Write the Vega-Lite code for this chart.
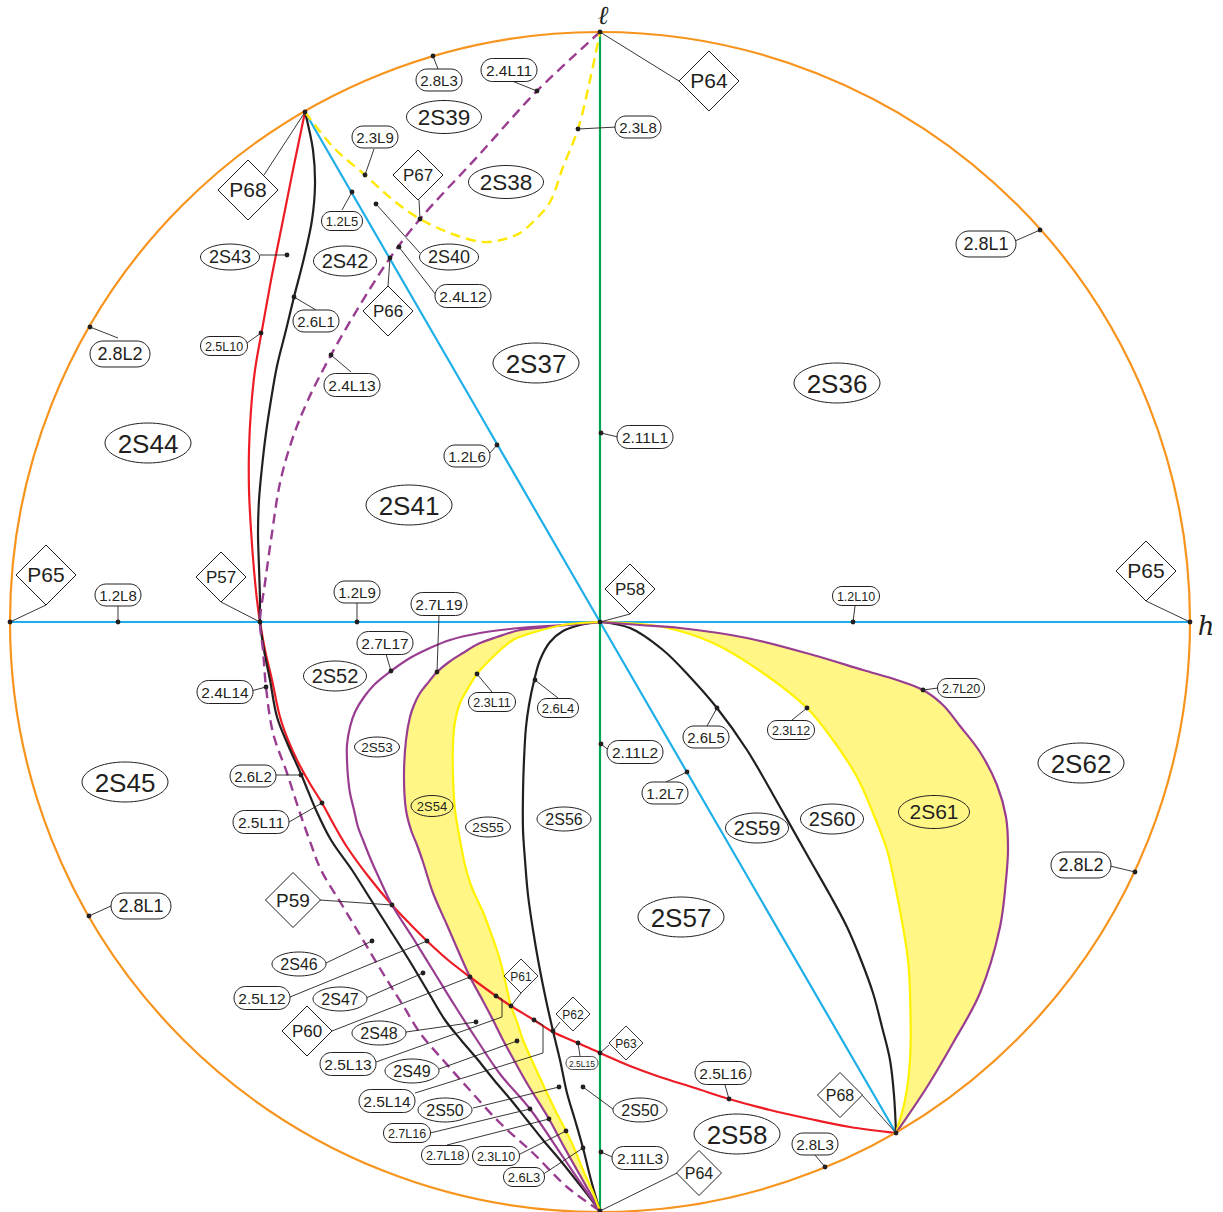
{
"$schema":"https://vega.github.io/schema/vega-lite/v6.json",
"width":1223,"height":1212,"autosize":{"type":"none"},"padding":0,"background":"white",
"config":{"view":{"stroke":null}},
"datasets":{
"curves":[
{"c":"h","k":0,"x":-590,"y":0},{"c":"h","k":1,"x":590,"y":0},
{"c":"v","k":0,"x":0,"y":590},{"c":"v","k":1,"x":0,"y":-589},
{"c":"diag","k":0,"x":-295,"y":510},{"c":"diag","k":1,"x":0,"y":0},{"c":"diag","k":2,"x":296,"y":-511},
{"c":"red","k":0,"x":-295,"y":510},{"c":"red","k":1,"x":-306,"y":457},{"c":"red","k":2,"x":-316,"y":407},{"c":"red","k":3,"x":-328,"y":347},{"c":"red","k":4,"x":-338,"y":292},{"c":"red","k":5,"x":-345,"y":252},{"c":"red","k":6,"x":-349,"y":212},{"c":"red","k":7,"x":-351,"y":172},{"c":"red","k":8,"x":-351,"y":132},{"c":"red","k":9,"x":-349,"y":92},{"c":"red","k":10,"x":-346,"y":52},{"c":"red","k":11,"x":-343,"y":22},{"c":"red","k":12,"x":-340,"y":0},{"c":"red","k":13,"x":-335,"y":-28},{"c":"red","k":14,"x":-328,"y":-58},{"c":"red","k":15,"x":-320,"y":-95},{"c":"red","k":16,"x":-312,"y":-118},{"c":"red","k":17,"x":-303,"y":-138},{"c":"red","k":18,"x":-291,"y":-160},{"c":"red","k":19,"x":-278,"y":-181},{"c":"red","k":20,"x":-266,"y":-203},{"c":"red","k":21,"x":-253,"y":-225},{"c":"red","k":22,"x":-232,"y":-254},{"c":"red","k":23,"x":-208,"y":-283},{"c":"red","k":24,"x":-190,"y":-302},{"c":"red","k":25,"x":-173,"y":-319},{"c":"red","k":26,"x":-152,"y":-338},{"c":"red","k":27,"x":-130,"y":-355},{"c":"red","k":28,"x":-104,"y":-374},{"c":"red","k":29,"x":-89,"y":-384},{"c":"red","k":30,"x":-66,"y":-398},{"c":"red","k":31,"x":-47,"y":-410},{"c":"red","k":32,"x":-22,"y":-421},{"c":"red","k":33,"x":0,"y":-431},{"c":"red","k":34,"x":30,"y":-444},{"c":"red","k":35,"x":60,"y":-455},{"c":"red","k":36,"x":95,"y":-466},{"c":"red","k":37,"x":129,"y":-477},{"c":"red","k":38,"x":170,"y":-488},{"c":"red","k":39,"x":210,"y":-497},{"c":"red","k":40,"x":250,"y":-505},{"c":"red","k":41,"x":296,"y":-511},
{"c":"blackL","k":0,"x":-295,"y":510},{"c":"blackL","k":1,"x":-287,"y":472},{"c":"blackL","k":2,"x":-285,"y":437},{"c":"blackL","k":3,"x":-288,"y":402},{"c":"blackL","k":4,"x":-296,"y":364},{"c":"blackL","k":5,"x":-306,"y":325},{"c":"blackL","k":6,"x":-314,"y":292},{"c":"blackL","k":7,"x":-323,"y":256},{"c":"blackL","k":8,"x":-329,"y":222},{"c":"blackL","k":9,"x":-334,"y":189},{"c":"blackL","k":10,"x":-338,"y":155},{"c":"blackL","k":11,"x":-341,"y":122},{"c":"blackL","k":12,"x":-342,"y":89},{"c":"blackL","k":13,"x":-341,"y":55},{"c":"blackL","k":14,"x":-340,"y":22},{"c":"blackL","k":15,"x":-340,"y":0},{"c":"blackL","k":16,"x":-336,"y":-28},{"c":"blackL","k":17,"x":-330,"y":-58},{"c":"blackL","k":18,"x":-323,"y":-95},{"c":"blackL","k":19,"x":-312,"y":-123},{"c":"blackL","k":20,"x":-299,"y":-152},{"c":"blackL","k":21,"x":-284,"y":-188},{"c":"blackL","k":22,"x":-269,"y":-218},{"c":"blackL","k":23,"x":-248,"y":-248},{"c":"blackL","k":24,"x":-229,"y":-278},{"c":"blackL","k":25,"x":-210,"y":-308},{"c":"blackL","k":26,"x":-191,"y":-338},{"c":"blackL","k":27,"x":-173,"y":-368},{"c":"blackL","k":28,"x":-155,"y":-398},{"c":"blackL","k":29,"x":-139,"y":-418},{"c":"blackL","k":30,"x":-122,"y":-438},{"c":"blackL","k":31,"x":-106,"y":-458},{"c":"blackL","k":32,"x":-89,"y":-478},{"c":"blackL","k":33,"x":-73,"y":-498},{"c":"blackL","k":34,"x":-57,"y":-518},{"c":"blackL","k":35,"x":-40,"y":-538},{"c":"blackL","k":36,"x":-24,"y":-558},{"c":"blackL","k":37,"x":0,"y":-589},
{"c":"blackM","k":0,"x":0,"y":0},{"c":"blackM","k":1,"x":-20,"y":-3},{"c":"blackM","k":2,"x":-37,"y":-9},{"c":"blackM","k":3,"x":-50,"y":-20},{"c":"blackM","k":4,"x":-60,"y":-38},{"c":"blackM","k":5,"x":-66,"y":-59},{"c":"blackM","k":6,"x":-71,"y":-83},{"c":"blackM","k":7,"x":-74,"y":-105},{"c":"blackM","k":8,"x":-76,"y":-138},{"c":"blackM","k":9,"x":-77,"y":-171},{"c":"blackM","k":10,"x":-77,"y":-208},{"c":"blackM","k":11,"x":-75,"y":-238},{"c":"blackM","k":12,"x":-72,"y":-273},{"c":"blackM","k":13,"x":-67,"y":-308},{"c":"blackM","k":14,"x":-61,"y":-343},{"c":"blackM","k":15,"x":-54,"y":-378},{"c":"blackM","k":16,"x":-47,"y":-409},{"c":"blackM","k":17,"x":-40,"y":-438},{"c":"blackM","k":18,"x":-33,"y":-471},{"c":"blackM","k":19,"x":-25,"y":-498},{"c":"blackM","k":20,"x":-17,"y":-526},{"c":"blackM","k":21,"x":-9,"y":-558},{"c":"blackM","k":22,"x":0,"y":-589},
{"c":"blackR","k":0,"x":0,"y":0},{"c":"blackR","k":1,"x":30,"y":-6},{"c":"blackR","k":2,"x":63,"y":-28},{"c":"blackR","k":3,"x":90,"y":-55},{"c":"blackR","k":4,"x":117,"y":-86},{"c":"blackR","k":5,"x":147,"y":-128},{"c":"blackR","k":6,"x":180,"y":-185},{"c":"blackR","k":7,"x":210,"y":-238},{"c":"blackR","k":8,"x":230,"y":-273},{"c":"blackR","k":9,"x":247,"y":-305},{"c":"blackR","k":10,"x":261,"y":-338},{"c":"blackR","k":11,"x":273,"y":-371},{"c":"blackR","k":12,"x":282,"y":-405},{"c":"blackR","k":13,"x":290,"y":-438},{"c":"blackR","k":14,"x":294,"y":-473},{"c":"blackR","k":15,"x":296,"y":-511},
{"c":"p17","k":0,"x":0,"y":0},{"c":"p17","k":1,"x":-37,"y":-3},{"c":"p17","k":2,"x":-80,"y":-6},{"c":"p17","k":3,"x":-120,"y":-11},{"c":"p17","k":4,"x":-150,"y":-18},{"c":"p17","k":5,"x":-170,"y":-26},{"c":"p17","k":6,"x":-190,"y":-36},{"c":"p17","k":7,"x":-209,"y":-49},{"c":"p17","k":8,"x":-225,"y":-62},{"c":"p17","k":9,"x":-236,"y":-75},{"c":"p17","k":10,"x":-245,"y":-90},{"c":"p17","k":11,"x":-250,"y":-105},{"c":"p17","k":12,"x":-253,"y":-123},{"c":"p17","k":13,"x":-253,"y":-138},{"c":"p17","k":14,"x":-252,"y":-155},{"c":"p17","k":15,"x":-250,"y":-171},{"c":"p17","k":16,"x":-246,"y":-188},{"c":"p17","k":17,"x":-242,"y":-205},{"c":"p17","k":18,"x":-237,"y":-218},{"c":"p17","k":19,"x":-229,"y":-238},{"c":"p17","k":20,"x":-220,"y":-258},{"c":"p17","k":21,"x":-208,"y":-283},{"c":"p17","k":22,"x":-187,"y":-316},{"c":"p17","k":23,"x":-166,"y":-350},{"c":"p17","k":24,"x":-145,"y":-384},{"c":"p17","k":25,"x":-123,"y":-418},{"c":"p17","k":26,"x":-100,"y":-452},{"c":"p17","k":27,"x":-70,"y":-487},{"c":"p17","k":28,"x":-35,"y":-538},{"c":"p17","k":29,"x":0,"y":-589},
{"c":"p19","k":0,"x":0,"y":0},{"c":"p19","k":1,"x":-53,"y":-5},{"c":"p19","k":2,"x":-80,"y":-8},{"c":"p19","k":3,"x":-103,"y":-15},{"c":"p19","k":4,"x":-122,"y":-22},{"c":"p19","k":5,"x":-137,"y":-31},{"c":"p19","k":6,"x":-151,"y":-40},{"c":"p19","k":7,"x":-163,"y":-50},{"c":"p19","k":8,"x":-173,"y":-62},{"c":"p19","k":9,"x":-180,"y":-71},{"c":"p19","k":10,"x":-186,"y":-83},{"c":"p19","k":11,"x":-190,"y":-95},{"c":"p19","k":12,"x":-194,"y":-118},{"c":"p19","k":13,"x":-196,"y":-155},{"c":"p19","k":14,"x":-194,"y":-188},{"c":"p19","k":15,"x":-189,"y":-208},{"c":"p19","k":16,"x":-183,"y":-223},{"c":"p19","k":17,"x":-177,"y":-240},{"c":"p19","k":18,"x":-167,"y":-271},{"c":"p19","k":19,"x":-153,"y":-303},{"c":"p19","k":20,"x":-140,"y":-333},{"c":"p19","k":21,"x":-130,"y":-355},{"c":"p19","k":22,"x":-117,"y":-379},{"c":"p19","k":23,"x":-107,"y":-398},{"c":"p19","k":24,"x":-97,"y":-418},{"c":"p19","k":25,"x":-85,"y":-440},{"c":"p19","k":26,"x":-72,"y":-463},{"c":"p19","k":27,"x":-51,"y":-497},{"c":"p19","k":28,"x":-37,"y":-523},{"c":"p19","k":29,"x":-23,"y":-548},{"c":"p19","k":30,"x":-10,"y":-571},{"c":"p19","k":31,"x":0,"y":-589},
{"c":"y11","k":0,"x":0,"y":0},{"c":"y11","k":1,"x":-37,"y":-3},{"c":"y11","k":2,"x":-65,"y":-10},{"c":"y11","k":3,"x":-87,"y":-18},{"c":"y11","k":4,"x":-105,"y":-33},{"c":"y11","k":5,"x":-123,"y":-52},{"c":"y11","k":6,"x":-133,"y":-68},{"c":"y11","k":7,"x":-140,"y":-81},{"c":"y11","k":8,"x":-145,"y":-100},{"c":"y11","k":9,"x":-147,"y":-121},{"c":"y11","k":10,"x":-147,"y":-155},{"c":"y11","k":11,"x":-145,"y":-188},{"c":"y11","k":12,"x":-140,"y":-218},{"c":"y11","k":13,"x":-135,"y":-243},{"c":"y11","k":14,"x":-128,"y":-266},{"c":"y11","k":15,"x":-117,"y":-290},{"c":"y11","k":16,"x":-108,"y":-314},{"c":"y11","k":17,"x":-100,"y":-338},{"c":"y11","k":18,"x":-94,"y":-363},{"c":"y11","k":19,"x":-89,"y":-384},{"c":"y11","k":20,"x":-83,"y":-400},{"c":"y11","k":21,"x":-77,"y":-418},{"c":"y11","k":22,"x":-66,"y":-443},{"c":"y11","k":23,"x":-53,"y":-471},{"c":"y11","k":24,"x":-44,"y":-490},{"c":"y11","k":25,"x":-34,"y":-509},{"c":"y11","k":26,"x":-25,"y":-528},{"c":"y11","k":27,"x":-17,"y":-548},{"c":"y11","k":28,"x":-8,"y":-568},{"c":"y11","k":29,"x":0,"y":-589},
{"c":"y12","k":0,"x":0,"y":0},{"c":"y12","k":1,"x":63,"y":-5},{"c":"y12","k":2,"x":113,"y":-21},{"c":"y12","k":3,"x":163,"y":-51},{"c":"y12","k":4,"x":207,"y":-86},{"c":"y12","k":5,"x":233,"y":-118},{"c":"y12","k":6,"x":257,"y":-155},{"c":"y12","k":7,"x":273,"y":-191},{"c":"y12","k":8,"x":287,"y":-228},{"c":"y12","k":9,"x":295,"y":-263},{"c":"y12","k":10,"x":303,"y":-305},{"c":"y12","k":11,"x":308,"y":-338},{"c":"y12","k":12,"x":310,"y":-371},{"c":"y12","k":13,"x":310,"y":-438},{"c":"y12","k":14,"x":305,"y":-478},{"c":"y12","k":15,"x":296,"y":-511},
{"c":"p20","k":0,"x":0,"y":0},{"c":"p20","k":1,"x":40,"y":-3},{"c":"p20","k":2,"x":80,"y":-6},{"c":"p20","k":3,"x":147,"y":-16},{"c":"p20","k":4,"x":213,"y":-33},{"c":"p20","k":5,"x":263,"y":-48},{"c":"p20","k":6,"x":297,"y":-58},{"c":"p20","k":7,"x":323,"y":-68},{"c":"p20","k":8,"x":343,"y":-83},{"c":"p20","k":9,"x":360,"y":-104},{"c":"p20","k":10,"x":380,"y":-130},{"c":"p20","k":11,"x":397,"y":-163},{"c":"p20","k":12,"x":406,"y":-195},{"c":"p20","k":13,"x":408,"y":-228},{"c":"p20","k":14,"x":406,"y":-258},{"c":"p20","k":15,"x":400,"y":-305},{"c":"p20","k":16,"x":380,"y":-371},{"c":"p20","k":17,"x":353,"y":-421},{"c":"p20","k":18,"x":327,"y":-465},{"c":"p20","k":19,"x":296,"y":-511},
{"c":"d24","k":0,"x":0,"y":590},{"c":"d24","k":1,"x":-63,"y":531},{"c":"d24","k":2,"x":-122,"y":466},{"c":"d24","k":3,"x":-180,"y":403},{"c":"d24","k":4,"x":-210,"y":364},{"c":"d24","k":5,"x":-240,"y":317},{"c":"d24","k":6,"x":-269,"y":267},{"c":"d24","k":7,"x":-292,"y":222},{"c":"d24","k":8,"x":-308,"y":182},{"c":"d24","k":9,"x":-320,"y":139},{"c":"d24","k":10,"x":-328,"y":89},{"c":"d24","k":11,"x":-335,"y":39},{"c":"d24","k":12,"x":-340,"y":0},{"c":"d24","k":13,"x":-337,"y":-28},{"c":"d24","k":14,"x":-334,"y":-65},{"c":"d24","k":15,"x":-327,"y":-111},{"c":"d24","k":16,"x":-313,"y":-151},{"c":"d24","k":17,"x":-300,"y":-191},{"c":"d24","k":18,"x":-288,"y":-225},{"c":"d24","k":19,"x":-279,"y":-248},{"c":"d24","k":20,"x":-258,"y":-283},{"c":"d24","k":21,"x":-237,"y":-318},{"c":"d24","k":22,"x":-213,"y":-358},{"c":"d24","k":23,"x":-196,"y":-385},{"c":"d24","k":24,"x":-180,"y":-411},{"c":"d24","k":25,"x":-157,"y":-438},{"c":"d24","k":26,"x":-133,"y":-465},{"c":"d24","k":27,"x":-100,"y":-501},{"c":"d24","k":28,"x":-67,"y":-531},{"c":"d24","k":29,"x":-33,"y":-565},{"c":"d24","k":30,"x":0,"y":-589},
{"c":"d23","k":0,"x":-295,"y":510},{"c":"d23","k":1,"x":-267,"y":475},{"c":"d23","k":2,"x":-235,"y":447},{"c":"d23","k":3,"x":-207,"y":422},{"c":"d23","k":4,"x":-180,"y":403},{"c":"d23","k":5,"x":-150,"y":389},{"c":"d23","k":6,"x":-117,"y":380},{"c":"d23","k":7,"x":-95,"y":383},{"c":"d23","k":8,"x":-80,"y":389},{"c":"d23","k":9,"x":-65,"y":402},{"c":"d23","k":10,"x":-50,"y":420},{"c":"d23","k":11,"x":-37,"y":455},{"c":"d23","k":12,"x":-22,"y":493},{"c":"d23","k":13,"x":-10,"y":542},{"c":"d23","k":14,"x":0,"y":590}
],
"fills":[
{"p":"a","k":0,"x":0,"y":0},{"p":"a","k":1,"x":-53,"y":-5},{"p":"a","k":2,"x":-80,"y":-8},{"p":"a","k":3,"x":-103,"y":-15},{"p":"a","k":4,"x":-122,"y":-22},{"p":"a","k":5,"x":-137,"y":-31},{"p":"a","k":6,"x":-151,"y":-40},{"p":"a","k":7,"x":-163,"y":-50},{"p":"a","k":8,"x":-173,"y":-62},{"p":"a","k":9,"x":-180,"y":-71},{"p":"a","k":10,"x":-186,"y":-83},{"p":"a","k":11,"x":-190,"y":-95},{"p":"a","k":12,"x":-194,"y":-118},{"p":"a","k":13,"x":-196,"y":-155},{"p":"a","k":14,"x":-194,"y":-188},{"p":"a","k":15,"x":-189,"y":-208},{"p":"a","k":16,"x":-183,"y":-223},{"p":"a","k":17,"x":-177,"y":-240},{"p":"a","k":18,"x":-167,"y":-271},{"p":"a","k":19,"x":-153,"y":-303},{"p":"a","k":20,"x":-140,"y":-333},{"p":"a","k":21,"x":-130,"y":-355},{"p":"a","k":22,"x":-117,"y":-379},{"p":"a","k":23,"x":-107,"y":-398},{"p":"a","k":24,"x":-97,"y":-418},{"p":"a","k":25,"x":-85,"y":-440},{"p":"a","k":26,"x":-72,"y":-463},{"p":"a","k":27,"x":-51,"y":-497},{"p":"a","k":28,"x":-37,"y":-523},{"p":"a","k":29,"x":-23,"y":-548},{"p":"a","k":30,"x":-10,"y":-571},{"p":"a","k":31,"x":0,"y":-589},{"p":"a","k":32,"x":-8,"y":-568},{"p":"a","k":33,"x":-17,"y":-548},{"p":"a","k":34,"x":-25,"y":-528},{"p":"a","k":35,"x":-34,"y":-509},{"p":"a","k":36,"x":-44,"y":-490},{"p":"a","k":37,"x":-53,"y":-471},{"p":"a","k":38,"x":-66,"y":-443},{"p":"a","k":39,"x":-77,"y":-418},{"p":"a","k":40,"x":-83,"y":-400},{"p":"a","k":41,"x":-89,"y":-384},{"p":"a","k":42,"x":-94,"y":-363},{"p":"a","k":43,"x":-100,"y":-338},{"p":"a","k":44,"x":-108,"y":-314},{"p":"a","k":45,"x":-117,"y":-290},{"p":"a","k":46,"x":-128,"y":-266},{"p":"a","k":47,"x":-135,"y":-243},{"p":"a","k":48,"x":-140,"y":-218},{"p":"a","k":49,"x":-145,"y":-188},{"p":"a","k":50,"x":-147,"y":-155},{"p":"a","k":51,"x":-147,"y":-121},{"p":"a","k":52,"x":-145,"y":-100},{"p":"a","k":53,"x":-140,"y":-81},{"p":"a","k":54,"x":-133,"y":-68},{"p":"a","k":55,"x":-123,"y":-52},{"p":"a","k":56,"x":-105,"y":-33},{"p":"a","k":57,"x":-87,"y":-18},{"p":"a","k":58,"x":-65,"y":-10},{"p":"a","k":59,"x":-37,"y":-3},
{"p":"b","k":0,"x":0,"y":0},{"p":"b","k":1,"x":40,"y":-3},{"p":"b","k":2,"x":80,"y":-6},{"p":"b","k":3,"x":147,"y":-16},{"p":"b","k":4,"x":213,"y":-33},{"p":"b","k":5,"x":263,"y":-48},{"p":"b","k":6,"x":297,"y":-58},{"p":"b","k":7,"x":323,"y":-68},{"p":"b","k":8,"x":343,"y":-83},{"p":"b","k":9,"x":360,"y":-104},{"p":"b","k":10,"x":380,"y":-130},{"p":"b","k":11,"x":397,"y":-163},{"p":"b","k":12,"x":406,"y":-195},{"p":"b","k":13,"x":408,"y":-228},{"p":"b","k":14,"x":406,"y":-258},{"p":"b","k":15,"x":400,"y":-305},{"p":"b","k":16,"x":380,"y":-371},{"p":"b","k":17,"x":353,"y":-421},{"p":"b","k":18,"x":327,"y":-465},{"p":"b","k":19,"x":296,"y":-511},{"p":"b","k":20,"x":305,"y":-478},{"p":"b","k":21,"x":310,"y":-438},{"p":"b","k":22,"x":310,"y":-371},{"p":"b","k":23,"x":308,"y":-338},{"p":"b","k":24,"x":303,"y":-305},{"p":"b","k":25,"x":295,"y":-263},{"p":"b","k":26,"x":287,"y":-228},{"p":"b","k":27,"x":273,"y":-191},{"p":"b","k":28,"x":257,"y":-155},{"p":"b","k":29,"x":233,"y":-118},{"p":"b","k":30,"x":207,"y":-86},{"p":"b","k":31,"x":163,"y":-51},{"p":"b","k":32,"x":113,"y":-21},{"p":"b","k":33,"x":63,"y":-5}
],
"circle":[{"x":0,"y":0}],
"leaders":[
{"id":1,"k":0,"x":-167,"y":566},{"id":1,"k":1,"x":-162,"y":553},
{"id":2,"k":0,"x":-63,"y":531},{"id":2,"k":1,"x":-88,"y":541},
{"id":3,"k":0,"x":-22,"y":493},{"id":3,"k":1,"x":17,"y":495},
{"id":4,"k":0,"x":0,"y":590},{"id":4,"k":1,"x":79,"y":541},
{"id":5,"k":0,"x":-235,"y":447},{"id":5,"k":1,"x":-226,"y":473},
{"id":6,"k":0,"x":-180,"y":403},{"id":6,"k":1,"x":-181,"y":422},
{"id":7,"k":0,"x":-295,"y":510},{"id":7,"k":1,"x":-336,"y":447},
{"id":8,"k":0,"x":-248,"y":430},{"id":8,"k":1,"x":-258,"y":412},
{"id":9,"k":0,"x":-224,"y":418},{"id":9,"k":1,"x":-180,"y":369},
{"id":10,"k":0,"x":-313,"y":367},{"id":10,"k":1,"x":-340,"y":367},
{"id":11,"k":0,"x":-210,"y":364},{"id":11,"k":1,"x":-212,"y":336},
{"id":12,"k":0,"x":-201,"y":375},{"id":12,"k":1,"x":-164,"y":327},
{"id":13,"k":0,"x":-306,"y":325},{"id":13,"k":1,"x":-284,"y":312},
{"id":14,"k":0,"x":-339,"y":289},{"id":14,"k":1,"x":-353,"y":279},
{"id":15,"k":0,"x":-510,"y":295},{"id":15,"k":1,"x":-482,"y":284},
{"id":16,"k":0,"x":-269,"y":267},{"id":16,"k":1,"x":-249,"y":250},
{"id":17,"k":0,"x":440,"y":392},{"id":17,"k":1,"x":415,"y":381},
{"id":18,"k":0,"x":1,"y":189},{"id":18,"k":1,"x":18,"y":185},
{"id":19,"k":0,"x":-103,"y":177},{"id":19,"k":1,"x":-110,"y":169},
{"id":20,"k":0,"x":-590,"y":0},{"id":20,"k":1,"x":-554,"y":17},
{"id":21,"k":0,"x":-482,"y":0},{"id":21,"k":1,"x":-482,"y":16},
{"id":22,"k":0,"x":-340,"y":0},{"id":22,"k":1,"x":-379,"y":20},
{"id":23,"k":0,"x":-243,"y":0},{"id":23,"k":1,"x":-243,"y":19},
{"id":24,"k":0,"x":-163,"y":-50},{"id":24,"k":1,"x":-161,"y":7},
{"id":25,"k":0,"x":0,"y":0},{"id":25,"k":1,"x":30,"y":8},
{"id":26,"k":0,"x":253,"y":0},{"id":26,"k":1,"x":255,"y":16},
{"id":27,"k":0,"x":590,"y":0},{"id":27,"k":1,"x":546,"y":21},
{"id":28,"k":0,"x":-209,"y":-49},{"id":28,"k":1,"x":-214,"y":-32},
{"id":29,"k":0,"x":-334,"y":-65},{"id":29,"k":1,"x":-349,"y":-69},
{"id":30,"k":0,"x":-123,"y":-52},{"id":30,"k":1,"x":-108,"y":-70},
{"id":31,"k":0,"x":-65,"y":-58},{"id":31,"k":1,"x":-42,"y":-76},
{"id":32,"k":0,"x":323,"y":-68},{"id":32,"k":1,"x":338,"y":-66},
{"id":33,"k":0,"x":117,"y":-86},{"id":33,"k":1,"x":107,"y":-104},
{"id":34,"k":0,"x":207,"y":-86},{"id":34,"k":1,"x":192,"y":-98},
{"id":35,"k":0,"x":1,"y":-122},{"id":35,"k":1,"x":11,"y":-130},
{"id":36,"k":0,"x":-299,"y":-153},{"id":36,"k":1,"x":-324,"y":-153},
{"id":37,"k":0,"x":87,"y":-150},{"id":37,"k":1,"x":66,"y":-160},
{"id":38,"k":0,"x":-278,"y":-181},{"id":38,"k":1,"x":-311,"y":-200},
{"id":39,"k":0,"x":535,"y":-250},{"id":39,"k":1,"x":510,"y":-244},
{"id":40,"k":0,"x":-511,"y":-294},{"id":40,"k":1,"x":-489,"y":-284},
{"id":41,"k":0,"x":-208,"y":-283},{"id":41,"k":1,"x":-280,"y":-278},
{"id":42,"k":0,"x":-228,"y":-319},{"id":42,"k":1,"x":-274,"y":-341},
{"id":43,"k":0,"x":-173,"y":-319},{"id":43,"k":1,"x":-310,"y":-375},
{"id":44,"k":0,"x":-177,"y":-351},{"id":44,"k":1,"x":-234,"y":-376},
{"id":45,"k":0,"x":-130,"y":-355},{"id":45,"k":1,"x":-268,"y":-409},
{"id":46,"k":0,"x":-89,"y":-384},{"id":46,"k":1,"x":-79,"y":-371},
{"id":47,"k":0,"x":-124,"y":-400},{"id":47,"k":1,"x":-194,"y":-410},
{"id":48,"k":0,"x":-104,"y":-374},{"id":48,"k":1,"x":-98,"y":-377},{"id":48,"k":2,"x":-98,"y":-395},{"id":48,"k":3,"x":-224,"y":-440},
{"id":49,"k":0,"x":-47,"y":-409},{"id":49,"k":1,"x":-40,"y":-400},
{"id":50,"k":0,"x":-83,"y":-419},{"id":50,"k":1,"x":-161,"y":-447},
{"id":51,"k":0,"x":-22,"y":-421},{"id":51,"k":1,"x":-20,"y":-434},
{"id":52,"k":0,"x":0,"y":-431},{"id":52,"k":1,"x":9,"y":-423},
{"id":53,"k":0,"x":-66,"y":-398},{"id":53,"k":1,"x":-57,"y":-403},{"id":53,"k":2,"x":-57,"y":-431},{"id":53,"k":3,"x":-185,"y":-471},
{"id":54,"k":0,"x":-41,"y":-465},{"id":54,"k":1,"x":-127,"y":-486},
{"id":55,"k":0,"x":-17,"y":-465},{"id":55,"k":1,"x":17,"y":-490},
{"id":56,"k":0,"x":129,"y":-477},{"id":56,"k":1,"x":125,"y":-463},
{"id":57,"k":0,"x":296,"y":-511},{"id":57,"k":1,"x":262,"y":-473},
{"id":58,"k":0,"x":-70,"y":-487},{"id":58,"k":1,"x":-170,"y":-511},
{"id":59,"k":0,"x":-51,"y":-497},{"id":59,"k":1,"x":-153,"y":-523},
{"id":60,"k":0,"x":-34,"y":-509},{"id":60,"k":1,"x":-82,"y":-533},
{"id":61,"k":0,"x":1,"y":-530},{"id":61,"k":1,"x":19,"y":-538},
{"id":62,"k":0,"x":225,"y":-545},{"id":62,"k":1,"x":215,"y":-533},
{"id":63,"k":0,"x":-17,"y":-526},{"id":63,"k":1,"x":-58,"y":-553},
{"id":64,"k":0,"x":0,"y":-589},{"id":64,"k":1,"x":77,"y":-551}
],
"dots":[
{"x":0,"y":590},{"x":-295,"y":510},{"x":0,"y":0},{"x":590,"y":0},{"x":-590,"y":0},{"x":-340,"y":0},{"x":0,"y":-589},{"x":296,"y":-511},
{"x":-167,"y":566},{"x":-63,"y":531},{"x":-22,"y":493},{"x":-235,"y":447},{"x":-180,"y":403},{"x":-248,"y":430},{"x":-224,"y":418},{"x":-313,"y":367},{"x":-210,"y":364},{"x":-201,"y":375},{"x":-306,"y":325},{"x":-339,"y":289},{"x":-510,"y":295},{"x":-269,"y":267},{"x":440,"y":392},{"x":1,"y":189},{"x":-103,"y":177},{"x":-482,"y":0},{"x":-243,"y":0},{"x":-163,"y":-50},{"x":253,"y":0},{"x":-209,"y":-49},{"x":-334,"y":-65},{"x":-123,"y":-52},{"x":-65,"y":-58},{"x":323,"y":-68},{"x":117,"y":-86},{"x":207,"y":-86},{"x":1,"y":-122},{"x":-299,"y":-153},{"x":87,"y":-150},{"x":-278,"y":-181},{"x":535,"y":-250},{"x":-511,"y":-294},{"x":-208,"y":-283},{"x":-228,"y":-319},{"x":-173,"y":-319},{"x":-177,"y":-351},{"x":-130,"y":-355},{"x":-89,"y":-384},{"x":-124,"y":-400},{"x":-104,"y":-374},{"x":-47,"y":-409},{"x":-83,"y":-419},{"x":-22,"y":-421},{"x":0,"y":-431},{"x":-66,"y":-398},{"x":-41,"y":-465},{"x":-17,"y":-465},{"x":129,"y":-477},{"x":-70,"y":-487},{"x":-51,"y":-497},{"x":-34,"y":-509},{"x":1,"y":-530},{"x":225,"y":-545},{"x":-17,"y":-526}
],
"axlab":[{"t":"ℓ","x":3,"y":606},{"t":"h","x":606,"y":-5}],
"LL":[{"t":"2.8L2","x":-480,"y":268},{"t":"2.8L1","x":386,"y":378},{"t":"2.8L2","x":481,"y":-243},{"t":"2.8L1","x":-459,"y":-284}],
"LM6":[{"t":"2.4L11","x":-91,"y":552},{"t":"2.4L12","x":-137,"y":326},{"t":"2.4L13","x":-248,"y":237},{"t":"2.7L19","x":-161,"y":18},{"t":"2.7L17","x":-215,"y":-21},{"t":"2.4L14","x":-375,"y":-70},{"t":"2.5L11","x":-339,"y":-200},{"t":"2.5L12","x":-338,"y":-376},{"t":"2.5L13","x":-252,"y":-442},{"t":"2.5L14","x":-213,"y":-479},{"t":"2.11L1","x":45,"y":185},{"t":"2.11L2","x":35,"y":-130},{"t":"2.11L3","x":40,"y":-536},{"t":"2.5L16","x":123,"y":-451}],
"LM5":[{"t":"2.8L3","x":-161,"y":542},{"t":"2.3L9","x":-225,"y":485},{"t":"1.2L6","x":-133,"y":166},{"t":"1.2L8","x":-482,"y":27},{"t":"1.2L9","x":-243,"y":30},{"t":"2.6L2","x":-347,"y":-154},{"t":"2.6L5","x":106,"y":-115},{"t":"1.2L7","x":65,"y":-171},{"t":"2.8L3","x":215,"y":-522},{"t":"2.3L8","x":38,"y":495},{"t":"2.6L1","x":-284,"y":301}],
"LS5":[{"t":"1.2L5","x":-258,"y":401},{"t":"2.6L4","x":-42,"y":-86},{"t":"2.6L3","x":-76,"y":-555}],
"LS6":[{"t":"2.5L10","x":-376,"y":276},{"t":"2.3L11","x":-108,"y":-80},{"t":"2.3L12","x":191,"y":-108},{"t":"2.7L20","x":361,"y":-66},{"t":"1.2L10","x":256,"y":26},{"t":"2.7L16","x":-193,"y":-511},{"t":"2.7L18","x":-155,"y":-533},{"t":"2.3L10","x":-104,"y":-534}],
"LXS":[{"t":"2.5L15","x":-18,"y":-441}],
"SXL":[{"t":"2S36","x":237,"y":239},{"t":"2S37","x":-64,"y":259},{"t":"2S41","x":-191,"y":117},{"t":"2S44","x":-452,"y":179},{"t":"2S45","x":-475,"y":-160},{"t":"2S57","x":81,"y":-295},{"t":"2S58","x":137,"y":-512},{"t":"2S62","x":481,"y":-141}],
"SL":[{"t":"2S39","x":-156,"y":505},{"t":"2S38","x":-94,"y":440}],
"SM":[{"t":"2S42","x":-255,"y":361},{"t":"2S52","x":-265,"y":-54},{"t":"2S59","x":157,"y":-206},{"t":"2S60","x":232,"y":-197}],
"S61":[{"t":"2S61","x":334,"y":-190}],
"SS18":[{"t":"2S43","x":-370,"y":365},{"t":"2S40","x":-151,"y":365}],
"SS16":[{"t":"2S46","x":-301,"y":-342},{"t":"2S47","x":-260,"y":-377},{"t":"2S48","x":-221,"y":-411},{"t":"2S49","x":-188,"y":-449},{"t":"2S50","x":-155,"y":-488},{"t":"2S50","x":40,"y":-488},{"t":"2S56","x":-36,"y":-197}],
"SXS":[{"t":"2S53","x":-223,"y":-125},{"t":"2S55","x":-112,"y":-205}],
"S54":[{"t":"2S54","x":-168,"y":-184}],
"PXL":[{"t":"P64","x":109,"y":541},{"t":"P68","x":-352,"y":432},{"t":"P65","x":-554,"y":47},{"t":"P65","x":546,"y":51}],
"PL":[{"t":"P59","x":-307,"y":-278}],
"PM":[{"t":"P57","x":-379,"y":45},{"t":"P58","x":30,"y":33},{"t":"P66","x":-212,"y":311},{"t":"P67","x":-182,"y":447},{"t":"P60","x":-293,"y":-409}],
"PS":[{"t":"P68","x":240,"y":-473},{"t":"P64","x":99,"y":-551}],
"PXS":[{"t":"P61","x":-79,"y":-354},{"t":"P62","x":-27,"y":-392},{"t":"P63","x":26,"y":-421}]
},
"encoding":{
"x":{"field":"x","type":"quantitative","scale":{"domain":[-600,623],"nice":false,"zero":false},"axis":null},
"y":{"field":"y","type":"quantitative","scale":{"domain":[-590,622],"nice":false,"zero":false},"axis":null}
},
"layer":[
{"data":{"name":"fills"},"mark":{"type":"line","interpolate":"catmull-rom","fill":"#fff685","stroke":"#fff685","strokeWidth":0.5},"encoding":{"detail":{"field":"p"},"order":{"field":"k","type":"quantitative"}}},
{"data":{"name":"curves"},"transform":[{"filter":{"not":{"field":"c","oneOf":["d24","d23"]}}}],"mark":{"type":"line","interpolate":"catmull-rom","strokeWidth":2.2},
 "encoding":{"color":{"field":"c","type":"nominal","legend":null,"scale":{"domain":["h","diag","v","red","blackL","blackM","blackR","p17","p19","p20","y11","y12","d24","d23"],"range":["#1fafe8","#1fafe8","#00a651","#ed1c24","#231f20","#231f20","#231f20","#993d91","#993d91","#993d91","#fff200","#fff200","#993d91","#ffe800"]}},"order":{"field":"k","type":"quantitative"}}},
{"data":{"name":"curves"},"transform":[{"filter":{"field":"c","oneOf":["d24","d23"]}}],"mark":{"type":"line","interpolate":"catmull-rom","strokeWidth":2.4,"strokeDash":[10,6]},
 "encoding":{"color":{"field":"c","type":"nominal","legend":null,"scale":{"domain":["h","diag","v","red","blackL","blackM","blackR","p17","p19","p20","y11","y12","d24","d23"],"range":["#1fafe8","#1fafe8","#00a651","#ed1c24","#231f20","#231f20","#231f20","#993d91","#993d91","#993d91","#fff200","#fff200","#993d91","#ffe800"]}},"order":{"field":"k","type":"quantitative"}}},
{"data":{"name":"circle"},"mark":{"type":"point","shape":"circle","size":1392400,"filled":false,"color":"#f7941d","strokeWidth":2.2,"opacity":1}},
{"data":{"name":"leaders"},"mark":{"type":"line","color":"#231f20","strokeWidth":0.9},"encoding":{"detail":{"field":"id"},"order":{"field":"k","type":"quantitative"}}},
{"data":{"name":"dots"},"mark":{"type":"point","shape":"circle","filled":true,"size":24,"color":"#231f20","opacity":1}},
{"data":{"name":"axlab"},"mark":{"type":"text","font":"DejaVu Serif","fontStyle":"italic","fontSize":26,"color":"#231f20","align":"center","baseline":"middle"},"encoding":{"text":{"field":"t"}}},
{"data":{"name":"LL"},"layer":[
 {"mark":{"type":"point","shape":"M -0.567 -0.433 L 0.567 -0.433 A 0.433 0.433 0 0 1 0.567 0.433 L -0.567 0.433 A 0.433 0.433 0 0 1 -0.567 -0.433 Z","size":3600,"filled":true,"fill":"white","stroke":"#231f20","strokeWidth":1,"opacity":1}},
 {"mark":{"type":"text","font":"Liberation Sans","fontSize":18,"color":"#231f20","align":"center","baseline":"middle","dy":1},"encoding":{"text":{"field":"t"}}}]},
{"data":{"name":"LM6"},"layer":[
 {"mark":{"type":"point","shape":"M -0.589 -0.411 L 0.589 -0.411 A 0.411 0.411 0 0 1 0.589 0.411 L -0.589 0.411 A 0.411 0.411 0 0 1 -0.589 -0.411 Z","size":3136,"filled":true,"fill":"white","stroke":"#231f20","strokeWidth":1,"opacity":1}},
 {"mark":{"type":"text","font":"Liberation Sans","fontSize":15.5,"color":"#231f20","align":"center","baseline":"middle","dy":1},"encoding":{"text":{"field":"t"}}}]},
{"data":{"name":"LM5"},"layer":[
 {"mark":{"type":"point","shape":"M -0.522 -0.478 L 0.522 -0.478 A 0.478 0.478 0 0 1 0.522 0.478 L -0.522 0.478 A 0.478 0.478 0 0 1 -0.522 -0.478 Z","size":2116,"filled":true,"fill":"white","stroke":"#231f20","strokeWidth":1,"opacity":1}},
 {"mark":{"type":"text","font":"Liberation Sans","fontSize":15,"color":"#231f20","align":"center","baseline":"middle","dy":1},"encoding":{"text":{"field":"t"}}}]},
{"data":{"name":"LS5"},"layer":[
 {"mark":{"type":"point","shape":"M -0.537 -0.463 L 0.537 -0.463 A 0.463 0.463 0 0 1 0.537 0.463 L -0.537 0.463 A 0.463 0.463 0 0 1 -0.537 -0.463 Z","size":1681,"filled":true,"fill":"white","stroke":"#231f20","strokeWidth":1,"opacity":1}},
 {"mark":{"type":"text","font":"Liberation Sans","fontSize":13,"color":"#231f20","align":"center","baseline":"middle","dy":1},"encoding":{"text":{"field":"t"}}}]},
{"data":{"name":"LS6"},"layer":[
 {"mark":{"type":"point","shape":"M -0.596 -0.404 L 0.596 -0.404 A 0.404 0.404 0 0 1 0.596 0.404 L -0.596 0.404 A 0.404 0.404 0 0 1 -0.596 -0.404 Z","size":2209,"filled":true,"fill":"white","stroke":"#231f20","strokeWidth":1,"opacity":1}},
 {"mark":{"type":"text","font":"Liberation Sans","fontSize":12.5,"color":"#231f20","align":"center","baseline":"middle","dy":1},"encoding":{"text":{"field":"t"}}}]},
{"data":{"name":"LXS"},"layer":[
 {"mark":{"type":"point","shape":"M -0.594 -0.406 L 0.594 -0.406 A 0.406 0.406 0 0 1 0.594 0.406 L -0.594 0.406 A 0.406 0.406 0 0 1 -0.594 -0.406 Z","size":1024,"filled":true,"fill":"white","stroke":"#231f20","strokeWidth":0.8,"opacity":1}},
 {"mark":{"type":"text","font":"Liberation Sans","fontSize":8.5,"color":"#231f20","align":"center","baseline":"middle","dy":0.5},"encoding":{"text":{"field":"t"}}}]},
{"data":{"name":"SXL"},"layer":[
 {"mark":{"type":"point","shape":"M -1 0 A 1 0.465 0 1 0 1 0 A 1 0.465 0 1 0 -1 0 Z","size":7396,"filled":true,"fill":"white","stroke":"#231f20","strokeWidth":1,"opacity":1}},
 {"mark":{"type":"text","font":"Liberation Sans","fontSize":26,"color":"#231f20","align":"center","baseline":"middle","dy":1.5},"encoding":{"text":{"field":"t"}}}]},
{"data":{"name":"SL"},"layer":[
 {"mark":{"type":"point","shape":"M -1 0 A 1 0.44 0 1 0 1 0 A 1 0.44 0 1 0 -1 0 Z","size":5625,"filled":true,"fill":"white","stroke":"#231f20","strokeWidth":1,"opacity":1}},
 {"mark":{"type":"text","font":"Liberation Sans","fontSize":22.5,"color":"#231f20","align":"center","baseline":"middle","dy":1},"encoding":{"text":{"field":"t"}}}]},
{"data":{"name":"SM"},"layer":[
 {"mark":{"type":"point","shape":"M -1 0 A 1 0.476 0 1 0 1 0 A 1 0.476 0 1 0 -1 0 Z","size":3969,"filled":true,"fill":"white","stroke":"#231f20","strokeWidth":1,"opacity":1}},
 {"mark":{"type":"text","font":"Liberation Sans","fontSize":20,"color":"#231f20","align":"center","baseline":"middle","dy":1},"encoding":{"text":{"field":"t"}}}]},
{"data":{"name":"S61"},"layer":[
 {"mark":{"type":"point","shape":"M -1 0 A 1 0.465 0 1 0 1 0 A 1 0.465 0 1 0 -1 0 Z","size":5041,"filled":true,"fill":"#fff685","stroke":"#231f20","strokeWidth":1,"opacity":1}},
 {"mark":{"type":"text","font":"Liberation Sans","fontSize":21,"color":"#231f20","align":"center","baseline":"middle","dy":1},"encoding":{"text":{"field":"t"}}}]},
{"data":{"name":"SS18"},"layer":[
 {"mark":{"type":"point","shape":"M -1 0 A 1 0.44 0 1 0 1 0 A 1 0.44 0 1 0 -1 0 Z","size":3481,"filled":true,"fill":"white","stroke":"#231f20","strokeWidth":1,"opacity":1}},
 {"mark":{"type":"text","font":"Liberation Sans","fontSize":18,"color":"#231f20","align":"center","baseline":"middle","dy":1},"encoding":{"text":{"field":"t"}}}]},
{"data":{"name":"SS16"},"layer":[
 {"mark":{"type":"point","shape":"M -1 0 A 1 0.444 0 1 0 1 0 A 1 0.444 0 1 0 -1 0 Z","size":2916,"filled":true,"fill":"white","stroke":"#231f20","strokeWidth":1,"opacity":1}},
 {"mark":{"type":"text","font":"Liberation Sans","fontSize":16,"color":"#231f20","align":"center","baseline":"middle","dy":1},"encoding":{"text":{"field":"t"}}}]},
{"data":{"name":"SXS"},"layer":[
 {"mark":{"type":"point","shape":"M -1 0 A 1 0.444 0 1 0 1 0 A 1 0.444 0 1 0 -1 0 Z","size":2025,"filled":true,"fill":"white","stroke":"#231f20","strokeWidth":1,"opacity":1}},
 {"mark":{"type":"text","font":"Liberation Sans","fontSize":13.5,"color":"#231f20","align":"center","baseline":"middle","dy":1},"encoding":{"text":{"field":"t"}}}]},
{"data":{"name":"S54"},"layer":[
 {"mark":{"type":"point","shape":"M -1 0 A 1 0.5 0 1 0 1 0 A 1 0.5 0 1 0 -1 0 Z","size":1764,"filled":true,"fill":"#fff685","stroke":"#231f20","strokeWidth":1,"opacity":1}},
 {"mark":{"type":"text","font":"Liberation Sans","fontSize":13,"color":"#231f20","align":"center","baseline":"middle","dy":1},"encoding":{"text":{"field":"t"}}}]},
{"data":{"name":"PXL"},"layer":[
 {"mark":{"type":"point","shape":"M -1 0 L 0 -1 L 1 0 L 0 1 Z","size":3600,"filled":true,"fill":"white","stroke":"#231f20","strokeWidth":1,"opacity":1}},
 {"mark":{"type":"text","font":"Liberation Sans","fontSize":21,"color":"#231f20","align":"center","baseline":"middle","dy":1},"encoding":{"text":{"field":"t"}}}]},
{"data":{"name":"PL"},"layer":[
 {"mark":{"type":"point","shape":"M -1 0 L 0 -1 L 1 0 L 0 1 Z","size":3025,"filled":true,"fill":"white","stroke":"#231f20","strokeWidth":1,"opacity":1}},
 {"mark":{"type":"text","font":"Liberation Sans","fontSize":19,"color":"#231f20","align":"center","baseline":"middle","dy":1},"encoding":{"text":{"field":"t"}}}]},
{"data":{"name":"PM"},"layer":[
 {"mark":{"type":"point","shape":"M -1 0 L 0 -1 L 1 0 L 0 1 Z","size":2500,"filled":true,"fill":"white","stroke":"#231f20","strokeWidth":1,"opacity":1}},
 {"mark":{"type":"text","font":"Liberation Sans","fontSize":17,"color":"#231f20","align":"center","baseline":"middle","dy":1},"encoding":{"text":{"field":"t"}}}]},
{"data":{"name":"PS"},"layer":[
 {"mark":{"type":"point","shape":"M -1 0 L 0 -1 L 1 0 L 0 1 Z","size":2025,"filled":true,"fill":"white","stroke":"#231f20","strokeWidth":1,"opacity":1}},
 {"mark":{"type":"text","font":"Liberation Sans","fontSize":16,"color":"#231f20","align":"center","baseline":"middle","dy":1},"encoding":{"text":{"field":"t"}}}]},
{"data":{"name":"PXS"},"layer":[
 {"mark":{"type":"point","shape":"M -1 0 L 0 -1 L 1 0 L 0 1 Z","size":1156,"filled":true,"fill":"white","stroke":"#231f20","strokeWidth":0.9,"opacity":1}},
 {"mark":{"type":"text","font":"Liberation Sans","fontSize":12,"color":"#231f20","align":"center","baseline":"middle","dy":0.5},"encoding":{"text":{"field":"t"}}}]}
]
}
